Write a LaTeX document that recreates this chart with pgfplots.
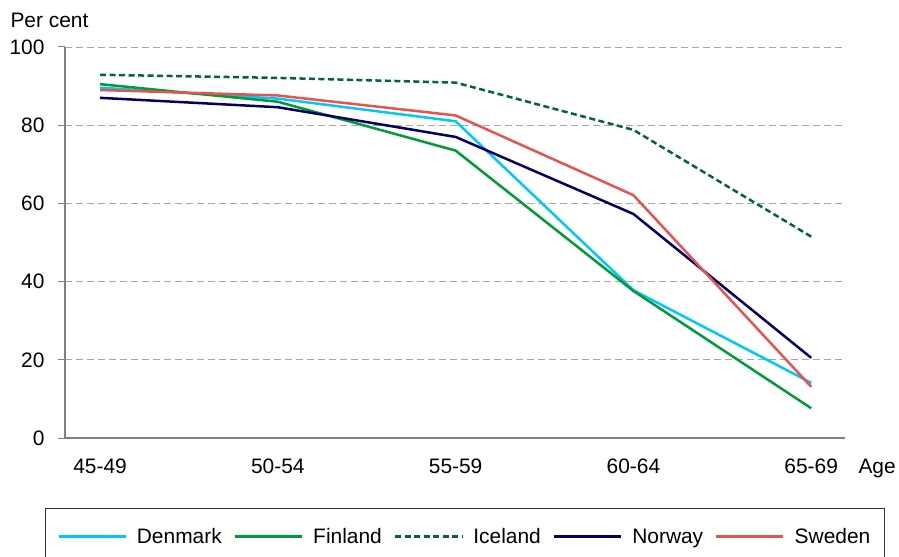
\documentclass[border=0pt]{standalone}
\usepackage{fontspec}
\setmainfont{Liberation Sans}
\usepackage{pgfplots}
\pgfplotsset{compat=1.18}
\definecolor{denmark}{RGB}{0,200,255}
\definecolor{finland}{RGB}{0,155,55}
\definecolor{iceland}{RGB}{0,102,51}
\definecolor{norway}{RGB}{0,0,102}
\definecolor{sweden}{RGB}{232,83,79}
\begin{document}
\begin{tikzpicture}[font=\fontsize{21}{25}\selectfont]
\begin{axis}[
    scale only axis, width=780bp, height=391bp,
    xmin=-0.197, xmax=4.19, ymin=0, ymax=100,
    xtick={0,1,2,3,4},
    xticklabels={45-49,50-54,55-59,60-64,65-69},
    ytick={0,20,40,60,80,100},
    axis x line*=bottom, axis y line*=left,
    axis line style={gray, line width=1.5bp},
    xtick style={draw=none},
    ytick style={gray, line width=1bp},
    tick align=outside, major tick length=7bp,
    ymajorgrids,
    grid style={gray!70, line width=0.8bp, dash pattern=on 7bp off 4bp},
    xticklabel style={anchor=base, yshift=-28bp},
    yticklabel style={anchor=east, xshift=-10bp},
    /pgf/number format/assume math mode=true,
    clip=false,
    legend columns=5,
    legend style={at={(-20bp,-70bp)}, anchor=north west, draw=black!80,
        line width=0.8bp, inner xsep=12bp, inner ysep=18bp,
        /tikz/every odd column/.append style={column sep=8bp},
        /tikz/every even column/.append style={column sep=10bp}},
    legend image code/.code={\draw[#1] (0bp,0bp) -- (67bp,0bp);},
    every axis plot/.append style={line width=2.5bp},
]
\addplot[denmark] coordinates {(0,89.6) (1,86.8) (2,81.0) (3,37.8) (4,14.1)};
\addlegendentry{Denmark}
\addplot[finland] coordinates {(0,90.5) (1,86.0) (2,73.5) (3,37.6) (4,7.6)};
\addlegendentry{Finland}
\addplot[iceland, dash pattern=on 6bp off 3.5bp] coordinates {(0,92.9) (1,92.1) (2,90.9) (3,78.8) (4,51.5)};
\addlegendentry{Iceland}
\addplot[norway] coordinates {(0,87.0) (1,84.6) (2,77.0) (3,57.3) (4,20.5)};
\addlegendentry{Norway}
\addplot[sweden] coordinates {(0,89.0) (1,87.6) (2,82.5) (3,62.1) (4,13.1)};
\addlegendentry{Sweden}
\node[anchor=base west] at (rel axis cs:0,1) [xshift=-58bp, yshift=19bp] {Per cent};
\node[anchor=base west] at (rel axis cs:1,0) [xshift=10bp, yshift=-35bp] {Age};
\coordinate (O) at (rel axis cs:0,0);
\end{axis}
\pgfresetboundingbox
\path[use as bounding box] ([shift={(-65bp,-119bp)}]O) rectangle ([shift={(834bp,438bp)}]O);
\end{tikzpicture}
\end{document}
